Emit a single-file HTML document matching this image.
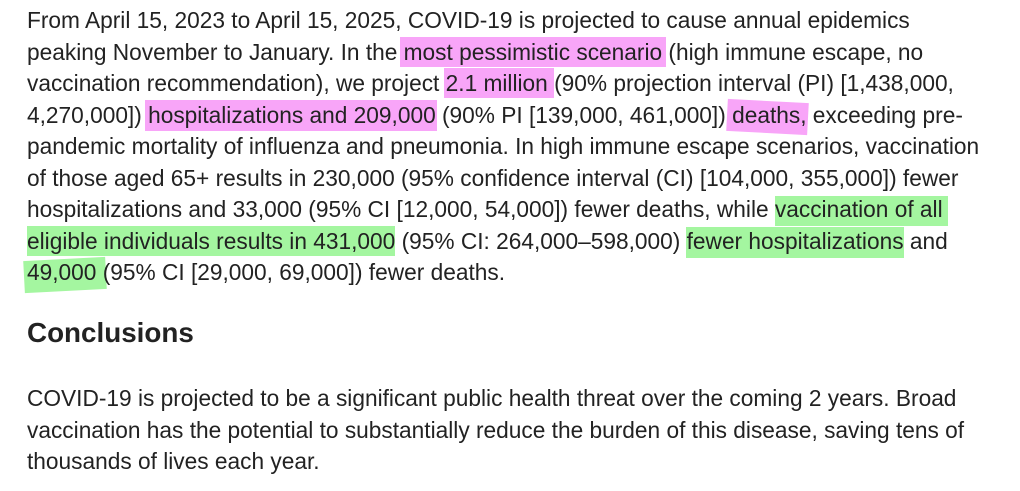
<!DOCTYPE html>
<html><head><meta charset="utf-8"><style>
body{margin:0;width:1020px;height:491px;background:#fff;position:relative;overflow:hidden;font-family:"Liberation Sans",sans-serif;color:#222;}
.l{position:absolute;left:27px;font-size:22.7px;line-height:24px;white-space:nowrap;z-index:2}
.h{position:absolute;z-index:1}
.p{background:#f8a5f8}.g{background:#a4f6a0}
h2{position:absolute;left:27px;top:317px;margin:0;font-size:27.8px;font-weight:bold;z-index:2}
</style></head><body>
<div class="h p" style="left:400px;top:37px;width:266px;height:30px"></div>
<div class="h p" style="left:444px;top:68px;width:110px;height:30px"></div>
<div class="h p" style="left:145px;top:100px;width:292px;height:31px"></div>
<div class="h p" style="left:727px;top:101px;width:81px;height:32px;transform:rotate(3deg)"></div>
<div class="h g" style="left:775px;top:196px;width:173px;height:30px"></div>
<div class="h g" style="left:27px;top:226px;width:368px;height:30px"></div>
<div class="h g" style="left:686px;top:227px;width:218px;height:31px"></div>
<div class="h g" style="left:24px;top:259px;width:82px;height:32px;transform:rotate(-3deg)"></div>
<div>
<div class="l" style="top:8px">From April 15, 2023 to April 15, 2025, COVID-19 is projected to cause annual epidemics</div>
<div class="l" style="top:40px">peaking November to January. In the most pessimistic scenario (high immune escape, no</div>
<div class="l" style="top:71px">vaccination recommendation), we project 2.1 million (90% projection interval (PI) [1,438,000,</div>
<div class="l" style="top:103px">4,270,000]) hospitalizations and 209,000 (90% PI [139,000, 461,000]) deaths, exceeding pre-</div>
<div class="l" style="top:134px">pandemic mortality of influenza and pneumonia. In high immune escape scenarios, vaccination</div>
<div class="l" style="top:166px">of those aged 65+ results in 230,000 (95% confidence interval (CI) [104,000, 355,000]) fewer</div>
<div class="l" style="top:197px">hospitalizations and 33,000 (95% CI [12,000, 54,000]) fewer deaths, while vaccination of all</div>
<div class="l" style="top:229px">eligible individuals results in 431,000 (95% CI: 264,000–598,000) fewer hospitalizations and</div>
<div class="l" style="top:260px">49,000 (95% CI [29,000, 69,000]) fewer deaths.</div>
</div>
<h2>Conclusions</h2>
<div>
<div class="l" style="top:386px">COVID-19 is projected to be a significant public health threat over the coming 2 years. Broad</div>
<div class="l" style="top:418px">vaccination has the potential to substantially reduce the burden of this disease, saving tens of</div>
<div class="l" style="top:449px">thousands of lives each year.</div>
</div>
</body></html>
